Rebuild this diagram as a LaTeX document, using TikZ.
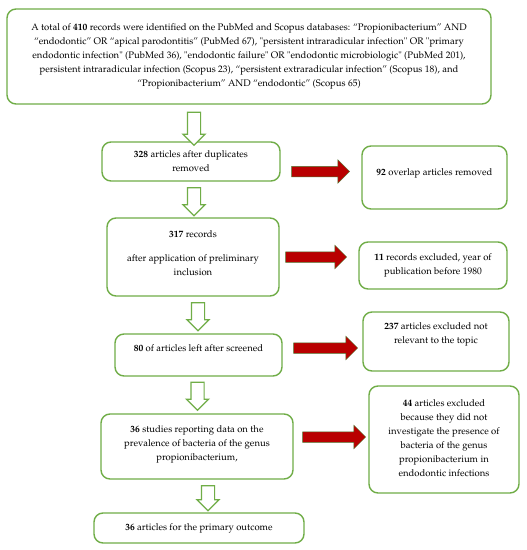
\documentclass[tikz,border=0pt]{standalone}
\usepackage[T1]{fontenc}
\usepackage{mathpazo}
\usetikzlibrary{shapes.arrows}
\definecolor{boxgreen}{RGB}{112,173,71}
\definecolor{arrred}{RGB}{185,0,0}
\begin{document}
\begin{tikzpicture}[x=1pt,y=-1pt,
  box/.style={draw=boxgreen, line width=1.4pt, rounded corners=9pt, fill=white, inner sep=0pt},
  txt/.style={align=center, font=\fontsize{9.5}{14}\selectfont, inner sep=0pt},
  downarr/.style={single arrow, draw=boxgreen, line width=1.2pt, fill=white, rotate=-90,
    inner xsep=0pt, inner ysep=6pt, single arrow head extend=4.5pt, minimum height=33pt, single arrow tip angle=90},
  redarr/.style={single arrow, draw=boxgreen!70!black, line width=0.5pt, fill=arrred,
    inner xsep=0pt, inner ysep=5pt, single arrow head extend=6.5pt, single arrow tip angle=90}
]
\useasboundingbox (0,0) rectangle (527,550);
\fill[white] (0,0) rectangle (527,550);

% boxes
\node[box, minimum width=484pt, minimum height=95pt] (b1) at (249,56.5) {};
\node[txt] (t1) at (b1) {A total of \textbf{410} records were identified on the PubMed and Scopus databases: ``Propionibacterium'' AND\\ ``endodontic'' OR ``apical parodontitis'' (PubMed 67), "persistent intraradicular infection" OR "primary\\ endodontic infection" (PubMed 36), "endodontic failure" OR "endodontic microbiologic" (PubMed 201),\\ persistent intraradicular infection (Scopus 23), ``persistent extraradicular infection'' (Scopus 18), and\\ ``Propionibacterium'' AND ``endodontic'' (Scopus 65)};

\node[box, minimum width=178pt, minimum height=39pt] (b2) at (191,161.5) {};
\node[txt] (t2) at (b2) {\textbf{328} articles after duplicates\\ removed};

\node[box, minimum width=145pt, minimum height=63pt] (r1) at (434.5,177.5) {};
\node[txt] (s1) at (434.5,173) {\textbf{92} overlap articles removed};

\node[box, minimum width=172pt, minimum height=78pt] (b3) at (193,257) {};
\node[txt] (t3) at (193,253) {\textbf{317} records\\[10pt] after application of preliminary\\ inclusion};

\node[box, minimum width=148pt, minimum height=47pt] (r2) at (433,265.5) {};
\node[txt] (s2) at (r2) {\textbf{11} records excluded, year of\\ publication before 1980};

\node[box, minimum width=167pt, minimum height=42pt] (b4) at (198.5,355) {};
\node[txt] (t4) at (198.5,348) {\textbf{80} of articles left after screened};

\node[box, minimum width=146pt, minimum height=59pt] (r3) at (436,341.5) {};
\node[txt] (s3) at (436,334) {\textbf{237} articles excluded not\\ relevant to the topic};

\node[box, minimum width=192pt, minimum height=65pt] (b5) at (197,446.5) {};
\node[txt] (t5) at (197,444) {\textbf{36} studies reporting data on the\\ prevalence of bacteria of the genus\\ propionibacterium,};

\node[box, minimum width=150pt, minimum height=107pt] (r4) at (444,439.5) {};
\node[txt] (s4) at (444,438.5) {\textbf{44} articles excluded\\ because they did not\\ investigate the presence of\\ bacteria of the genus\\ propionibacterium in\\ endodontic infections};

\node[box, minimum width=210pt, minimum height=30pt] (b6) at (199,528) {};
\node[txt] (t6) at (b6) {\textbf{36} articles for the primary outcome};

% hollow green down arrows
\node[downarr] (d1) at (194,125.5) {};
\node[downarr, minimum height=28pt] (d2) at (194,198.5) {};
\node[downarr, minimum height=28pt] (d3) at (198,313.5) {};
\node[downarr, minimum height=28pt] (d4) at (197.5,393) {};
\node[downarr, minimum height=25pt] (d5) at (208,495) {};

% red arrows
\node[redarr, minimum height=58pt] (a1) at (318,171.5) {};
\node[redarr, minimum height=61pt] (a2) at (313.5,257) {};
\node[redarr, minimum height=64pt] (a3) at (323,348) {};
\node[redarr, minimum height=63pt] (a4) at (331.5,437) {};
\end{tikzpicture}
\end{document}
